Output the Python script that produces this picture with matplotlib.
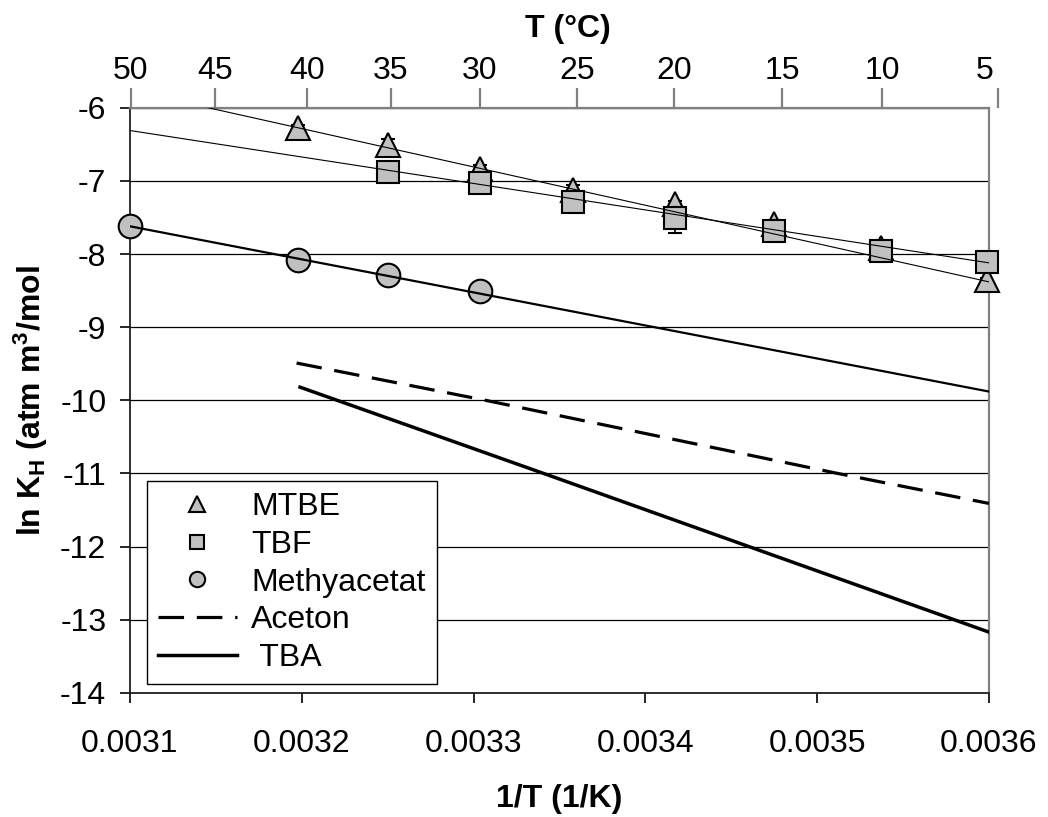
import numpy as np
import matplotlib
matplotlib.use("Agg")
import matplotlib.pyplot as plt
import matplotlib.transforms as mtransforms

plt.rcParams['font.family'] = ['Liberation Sans', 'DejaVu Sans']
plt.rcParams['mathtext.default'] = 'regular'
plt.rcParams['axes.unicode_minus'] = False

# data (x = 1/T in 1/K, y = ln KH)
mtbe_x = [0.003198, 0.003250, 0.003304, 0.003358, 0.003417, 0.003475, 0.003537, 0.003599]
mtbe_y = [-6.27, -6.51, -6.83, -7.12, -7.32, -7.59, -7.92, -8.35]
mtbe_err = [0.03, 0.08, 0.05, 0.06, 0.04, 0.03, 0.02, 0.02]

tbf_x = [0.003250, 0.003304, 0.003358, 0.003417, 0.003475, 0.003537, 0.003599]
tbf_y = [-6.88, -7.03, -7.29, -7.51, -7.68, -7.96, -8.11]
tbf_err = [0.03, 0.03, 0.03, 0.20, 0.03, 0.03, 0.02]

meth_x = [0.003100, 0.003198, 0.003250, 0.003304]
meth_y = [-7.62, -8.08, -8.28, -8.51]

# trend lines as drawn in the chart, read at both axis ends
trend_x = [0.0031, 0.0036]
mtbe_trend = [-5.76, -8.38]
tbf_trend = [-6.31, -8.12]
meth_trend = [-7.62, -9.88]

aceton_x = [0.003197, 0.003307, 0.003512, 0.003600]
aceton_y = [-9.49, -10.00, -11.00, -11.41]

tba_x = [0.003199, 0.003342, 0.003600]
tba_y = [-9.82, -11.01, -13.17]

top_labels = ['50', '45', '40', '35', '30', '25', '20', '15', '10', '5']
top_pos = [0.0031006, 0.0031495, 0.0032030, 0.0032519, 0.0033037,
           0.0033602, 0.0034166, 0.0034795, 0.0035377, 0.0036052]

grey = '#c0c0c0'
xmin, xmax = 0.0031, 0.0036

fig = plt.figure(figsize=(10.48, 8.17), dpi=100)
left, bottom, width, height = 0.124, 0.152, 0.8197, 0.716
ax = fig.add_axes([left, bottom, width, height])

ax.set_xlim(xmin, xmax)
ax.set_ylim(-14, -6)
ax.set_xticks([0.0031, 0.0032, 0.0033, 0.0034, 0.0035, 0.0036])
ax.set_xticklabels(['0.0031', '0.0032', '0.0033', '0.0034', '0.0035', '0.0036'])
ax.set_yticks(np.arange(-14, -5, 1))
ax.yaxis.grid(True, color='black', lw=0.9)
ax.set_axisbelow(True)

ax.tick_params(axis='both', labelsize=23, direction='out', length=7, width=1.2, color='black')
ax.tick_params(axis='x', pad=19)
ax.tick_params(axis='y', pad=10)
for s in ['left', 'bottom']:
    ax.spines[s].set_color('#202020')
    ax.spines[s].set_linewidth(1.3)
for s in ['top', 'right']:
    ax.spines[s].set_color('#808080')
    ax.spines[s].set_linewidth(1.6)

# trend lines
ax.plot(trend_x, mtbe_trend, color='black', lw=0.8, zorder=5)
ax.plot(trend_x, tbf_trend, color='black', lw=0.8, zorder=5)
ax.plot(trend_x, meth_trend, color='black', lw=1.6, zorder=5)

# error bars
ax.errorbar(mtbe_x, mtbe_y, yerr=mtbe_err, fmt='none', ecolor='black', elinewidth=1.2, capsize=5, capthick=1.5, zorder=3)
ax.errorbar(tbf_x, tbf_y, yerr=tbf_err, fmt='none', ecolor='black', elinewidth=1.2, capsize=5, capthick=1.5, zorder=3)

# markers
ax.plot(mtbe_x, mtbe_y, ls='none', marker='^', ms=17, mfc=grey, mec='black', mew=1.5, label='MTBE', zorder=4, clip_on=False)
ax.plot(tbf_x, tbf_y, ls='none', marker='s', ms=16, mfc=grey, mec='black', mew=1.5, label='TBF', zorder=4, clip_on=False)
ax.plot(meth_x, meth_y, ls='none', marker='o', ms=17, mfc=grey, mec='black', mew=1.5, label='Methyacetat', zorder=4, clip_on=False)

ax.plot(aceton_x, aceton_y, color='black', lw=2.3, ls=(0, (8, 4)), label='Aceton', zorder=4)
ax.plot(tba_x, tba_y, color='black', lw=2.5, label=' TBA', zorder=4)

ax.set_xlabel('1/T (1/K)', fontsize=23, fontweight='bold', labelpad=18)
ax.set_ylabel(r'ln K$_\mathregular{H}$ (atm m$^\mathregular{3}$/mol', fontsize=23, fontweight='bold', labelpad=7)

leg = ax.legend(loc='lower left', bbox_to_anchor=(0.02, 0.015), borderaxespad=0,
                fontsize=23, frameon=True, fancybox=False, framealpha=1,
                edgecolor='black', markerscale=0.65, handlelength=2.45,
                labelspacing=0.24, borderpad=0.35, handletextpad=0.45)
leg.get_frame().set_linewidth(1.0)
leg.set_zorder(10)

# top axis in deg C (slightly wider so the last tick sits past the corner)
xmax_top = 0.00361
ax_top = fig.add_axes([left, bottom, width * (xmax_top - xmin) / (xmax - xmin), height])
ax_top.set_xlim(xmin, xmax_top)
ax_top.patch.set_visible(False)
for s in ax_top.spines.values():
    s.set_visible(False)
ax_top.set_yticks([])
ax_top.xaxis.set_ticks_position('top')
ax_top.xaxis.set_label_position('top')
ax_top.set_xticks(top_pos)
ax_top.set_xticklabels(top_labels)
ax_top.tick_params(axis='x', direction='out', length=14.5, width=1.6, color='#808080', labelsize=23, pad=1)
ax_top.set_xlabel('T (°C)', fontsize=23, fontweight='bold', labelpad=14)

fig.canvas.draw()
last = ax_top.xaxis.get_major_ticks()[-1].label2
last.set_transform(last.get_transform() + mtransforms.ScaledTranslation(-13 / 100, 0, fig.dpi_scale_trans))

fig.savefig('out.png', dpi=100)
